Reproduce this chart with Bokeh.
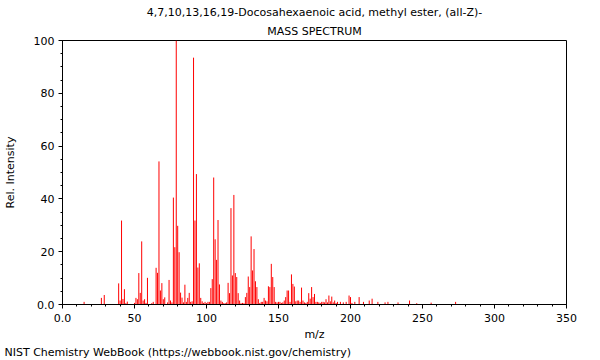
from bokeh.plotting import figure
from bokeh.models import Range1d, SingleIntervalTicker, Title
from bokeh.embed import file_html
from bokeh.resources import INLINE

# m/z values and relative intensities
mz = [15, 27, 29, 39, 40, 41, 42, 43, 44, 45, 50, 51, 52, 53, 54, 55, 56, 57, 58, 59,
      62, 63, 65, 66, 67, 68, 69, 70, 71, 73, 74, 75, 76, 77, 78, 79, 80, 81, 82, 83,
      84, 85, 86, 87, 88, 89, 90, 91, 92, 93, 94, 95, 96, 97, 98, 99, 100, 101, 102, 103,
      104, 105, 106, 107, 108, 109, 110, 111, 112, 113, 114, 115, 116, 117, 118, 119, 120, 121, 122, 123,
      124, 125, 126, 127, 128, 129, 130, 131, 132, 133, 134, 135, 136, 137, 138, 139, 140, 141, 142, 143,
      144, 145, 146, 147, 148, 149, 150, 151, 152, 153, 154, 155, 156, 157, 158, 159, 160, 161, 162, 163,
      164, 165, 166, 167, 168, 169, 170, 171, 172, 173, 174, 175, 176, 177, 178, 179, 180, 181, 182, 183,
      184, 185, 186, 187, 188, 189, 190, 191, 193, 195, 197, 199, 200, 201, 203, 206, 209, 213, 215, 219,
      224, 226, 233, 241, 246, 256, 273]
intensity = [1.0, 2.5, 3.6, 8.0, 1.5, 31.8, 2.1, 5.8, 0.5, 1.1, 0.6, 2.5, 2.0, 11.9, 4.4, 23.9, 1.5, 2.0, 0.6, 10.1,
             0.5, 1.0, 13.9, 12.0, 54.2, 5.3, 8.1, 2.0, 2.7, 0.8, 9.3, 1.5, 0.8, 40.5, 21.7, 100.0, 29.8, 19.8, 4.5, 2.6,
             0.8, 7.5, 1.0, 2.5, 4.4, 1.0, 1.2, 93.5, 31.8, 49.4, 14.0, 15.6, 2.5, 1.2, 0.6, 1.0, 0.5, 1.0, 1.0, 6.2,
             9.6, 48.1, 24.7, 16.9, 32.0, 7.6, 1.5, 1.0, 0.5, 0.5, 0.8, 8.2, 4.3, 36.5, 11.0, 41.5, 11.9, 10.4, 4.3, 1.5,
             0.5, 0.6, 0.5, 2.8, 4.4, 10.6, 6.6, 25.8, 12.9, 21.0, 8.8, 6.6, 2.0, 0.6, 1.0, 1.0, 2.5, 1.5, 1.2, 6.9,
             6.6, 15.4, 10.4, 6.6, 1.0, 0.8, 1.0, 1.0, 0.6, 0.8, 1.5, 2.8, 5.3, 5.3, 1.0, 11.4, 7.8, 6.8, 1.2, 1.5,
             1.5, 1.0, 6.4, 1.5, 0.8, 0.6, 1.0, 4.3, 2.2, 6.6, 2.8, 4.0, 1.0, 1.0, 0.8, 0.6, 1.0, 1.0, 0.8, 2.0,
             0.8, 3.4, 1.2, 3.0, 0.8, 1.5, 0.6, 1.0, 1.0, 0.8, 1.0, 3.4, 2.8, 0.6, 1.0, 2.8, 1.0, 1.5, 2.2, 1.0,
             0.8, 1.0, 0.8, 1.5, 0.5, 0.7, 1.0]

x_ticks_override = {0: "0.0"}
y_ticks_override = {0: "0.0"}

title_line1 = "4,7,10,13,16,19-Docosahexaenoic acid, methyl ester, (all-Z)-"
title_line2 = "MASS SPECTRUM"
footer = "NIST Chemistry WebBook (https://webbook.nist.gov/chemistry)"

FONT = "DejaVu Sans"

p = figure(width=600, height=360, output_backend="svg", toolbar_location=None,
           title_location=None,
           x_range=Range1d(0, 350), y_range=Range1d(0, 100),
           min_border_left=62, min_border_right=34, min_border_top=40, min_border_bottom=56,
           background_fill_color="white", border_fill_color="white")
p.xgrid.visible = False
p.ygrid.visible = False
p.outline_line_color = "black"
p.outline_line_width = 1

p.segment(x0=mz, y0=[0] * len(mz), x1=mz, y1=intensity, line_color="#ff0000", line_width=1)

p.xaxis.ticker = SingleIntervalTicker(interval=50, num_minor_ticks=5)
p.yaxis.ticker = SingleIntervalTicker(interval=20, num_minor_ticks=4)
p.xaxis.major_label_overrides = x_ticks_override
p.yaxis.major_label_overrides = y_ticks_override
for ax in (p.xaxis[0], p.yaxis[0]):
    ax.axis_line_color = "black"
    ax.major_tick_line_color = "black"
    ax.minor_tick_line_color = "black"
    ax.major_tick_in = 0
    ax.major_tick_out = 4
    ax.minor_tick_in = 0
    ax.minor_tick_out = 2
    ax.major_label_text_font = FONT
    ax.major_label_text_font_size = "11px"
    ax.major_label_text_color = "black"
    ax.axis_label_text_font = FONT
    ax.axis_label_text_font_size = "11px"
    ax.axis_label_text_font_style = "normal"
    ax.axis_label_text_color = "black"
p.xaxis.axis_label = "m/z"
p.yaxis.axis_label = "Rel. Intensity"
p.xaxis.major_label_standoff = 5
p.xaxis.axis_label_standoff = 3
p.yaxis.major_label_standoff = 4
p.yaxis.axis_label_standoff = 14

def make_title(text, standoff, offset=0, align="center"):
    return Title(text=text, align=align, offset=offset, standoff=standoff,
                 text_font=FONT, text_font_size="11px", text_font_style="normal",
                 text_color="black")

p.add_layout(make_title(title_line2, 5), "above")
p.add_layout(make_title(title_line1, 3), "above")
p.add_layout(make_title(footer, 0, offset=-58, align="left"), "below")

open("out.html", "w").write(file_html(p, INLINE))
